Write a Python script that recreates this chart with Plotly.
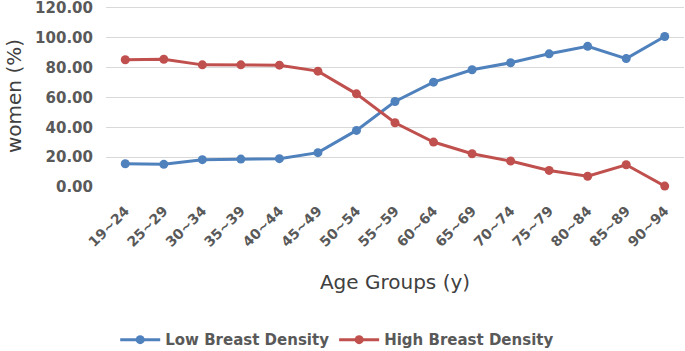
import plotly.graph_objects as go

age_groups = ["19~24", "25~29", "30~34", "35~39", "40~44", "45~49", "50~54",
              "55~59", "60~64", "65~69", "70~74", "75~79", "80~84", "85~89", "90~94"]
low_density = [15.6, 15.2, 18.3, 18.7, 19.0, 23.0, 37.9, 57.3, 70.2, 78.5, 83.2, 89.2, 94.2, 86.0, 100.8]
high_density = [85.2, 85.6, 81.8, 81.8, 81.6, 77.6, 62.4, 43.0, 30.1, 22.3, 17.4, 11.1, 7.2, 14.9, 0.6]
y_ticks = [0, 20, 40, 60, 80, 100, 120]

BLUE = "#4F81BD"
RED = "#C0504D"
FONT = "DejaVu Sans"

fig = go.Figure()
fig.add_trace(go.Scatter(x=age_groups, y=low_density, mode="lines+markers",
                         name="Low Breast Density",
                         line=dict(color=BLUE, width=3),
                         marker=dict(color=BLUE, size=9), cliponaxis=False))
fig.add_trace(go.Scatter(x=age_groups, y=high_density, mode="lines+markers",
                         name="High Breast Density",
                         line=dict(color=RED, width=3),
                         marker=dict(color=RED, size=9), cliponaxis=False))

fig.update_layout(
    width=685, height=351,
    margin=dict(l=106, r=1, t=5, b=164, autoexpand=False),
    paper_bgcolor="white", plot_bgcolor="white",
    font=dict(family=FONT, color="#595959"),
    showlegend=True,
    legend=dict(orientation="h", x=0.40, xanchor="center",
                y=-0.84, yanchor="middle",
                font=dict(size=15, color="#595959", family=FONT, weight="bold"),
                itemwidth=40, tracegroupgap=0),
)
fig.update_xaxes(
    type="category", range=[-0.5, 14.5], automargin=False,
    tickangle=-45, showgrid=False, showline=False, zeroline=False,
    tickfont=dict(size=14, color="#595959", family=FONT, weight="bold"),
    ticklabelstandoff=12,
    title=dict(text="Age Groups (y)", font=dict(size=20, color="#404040", family=FONT),
               standoff=26),
)
fig.update_yaxes(
    range=[0, 121.9], tickvals=y_ticks, tickformat=".2f", automargin=False,
    showgrid=True, gridcolor="#D9D9D9", gridwidth=1, zeroline=False, showline=False,
    tickfont=dict(size=15, color="#595959", family=FONT, weight="bold"),
    ticklabelstandoff=12, ticklabeloverflow="allow",
    title=dict(text="women (%)", font=dict(size=20, color="#404040", family=FONT),
               standoff=8),
)

fig.write_html("out.html", post_script="document.body.style.margin='0';",
               config={"displayModeBar": False})
